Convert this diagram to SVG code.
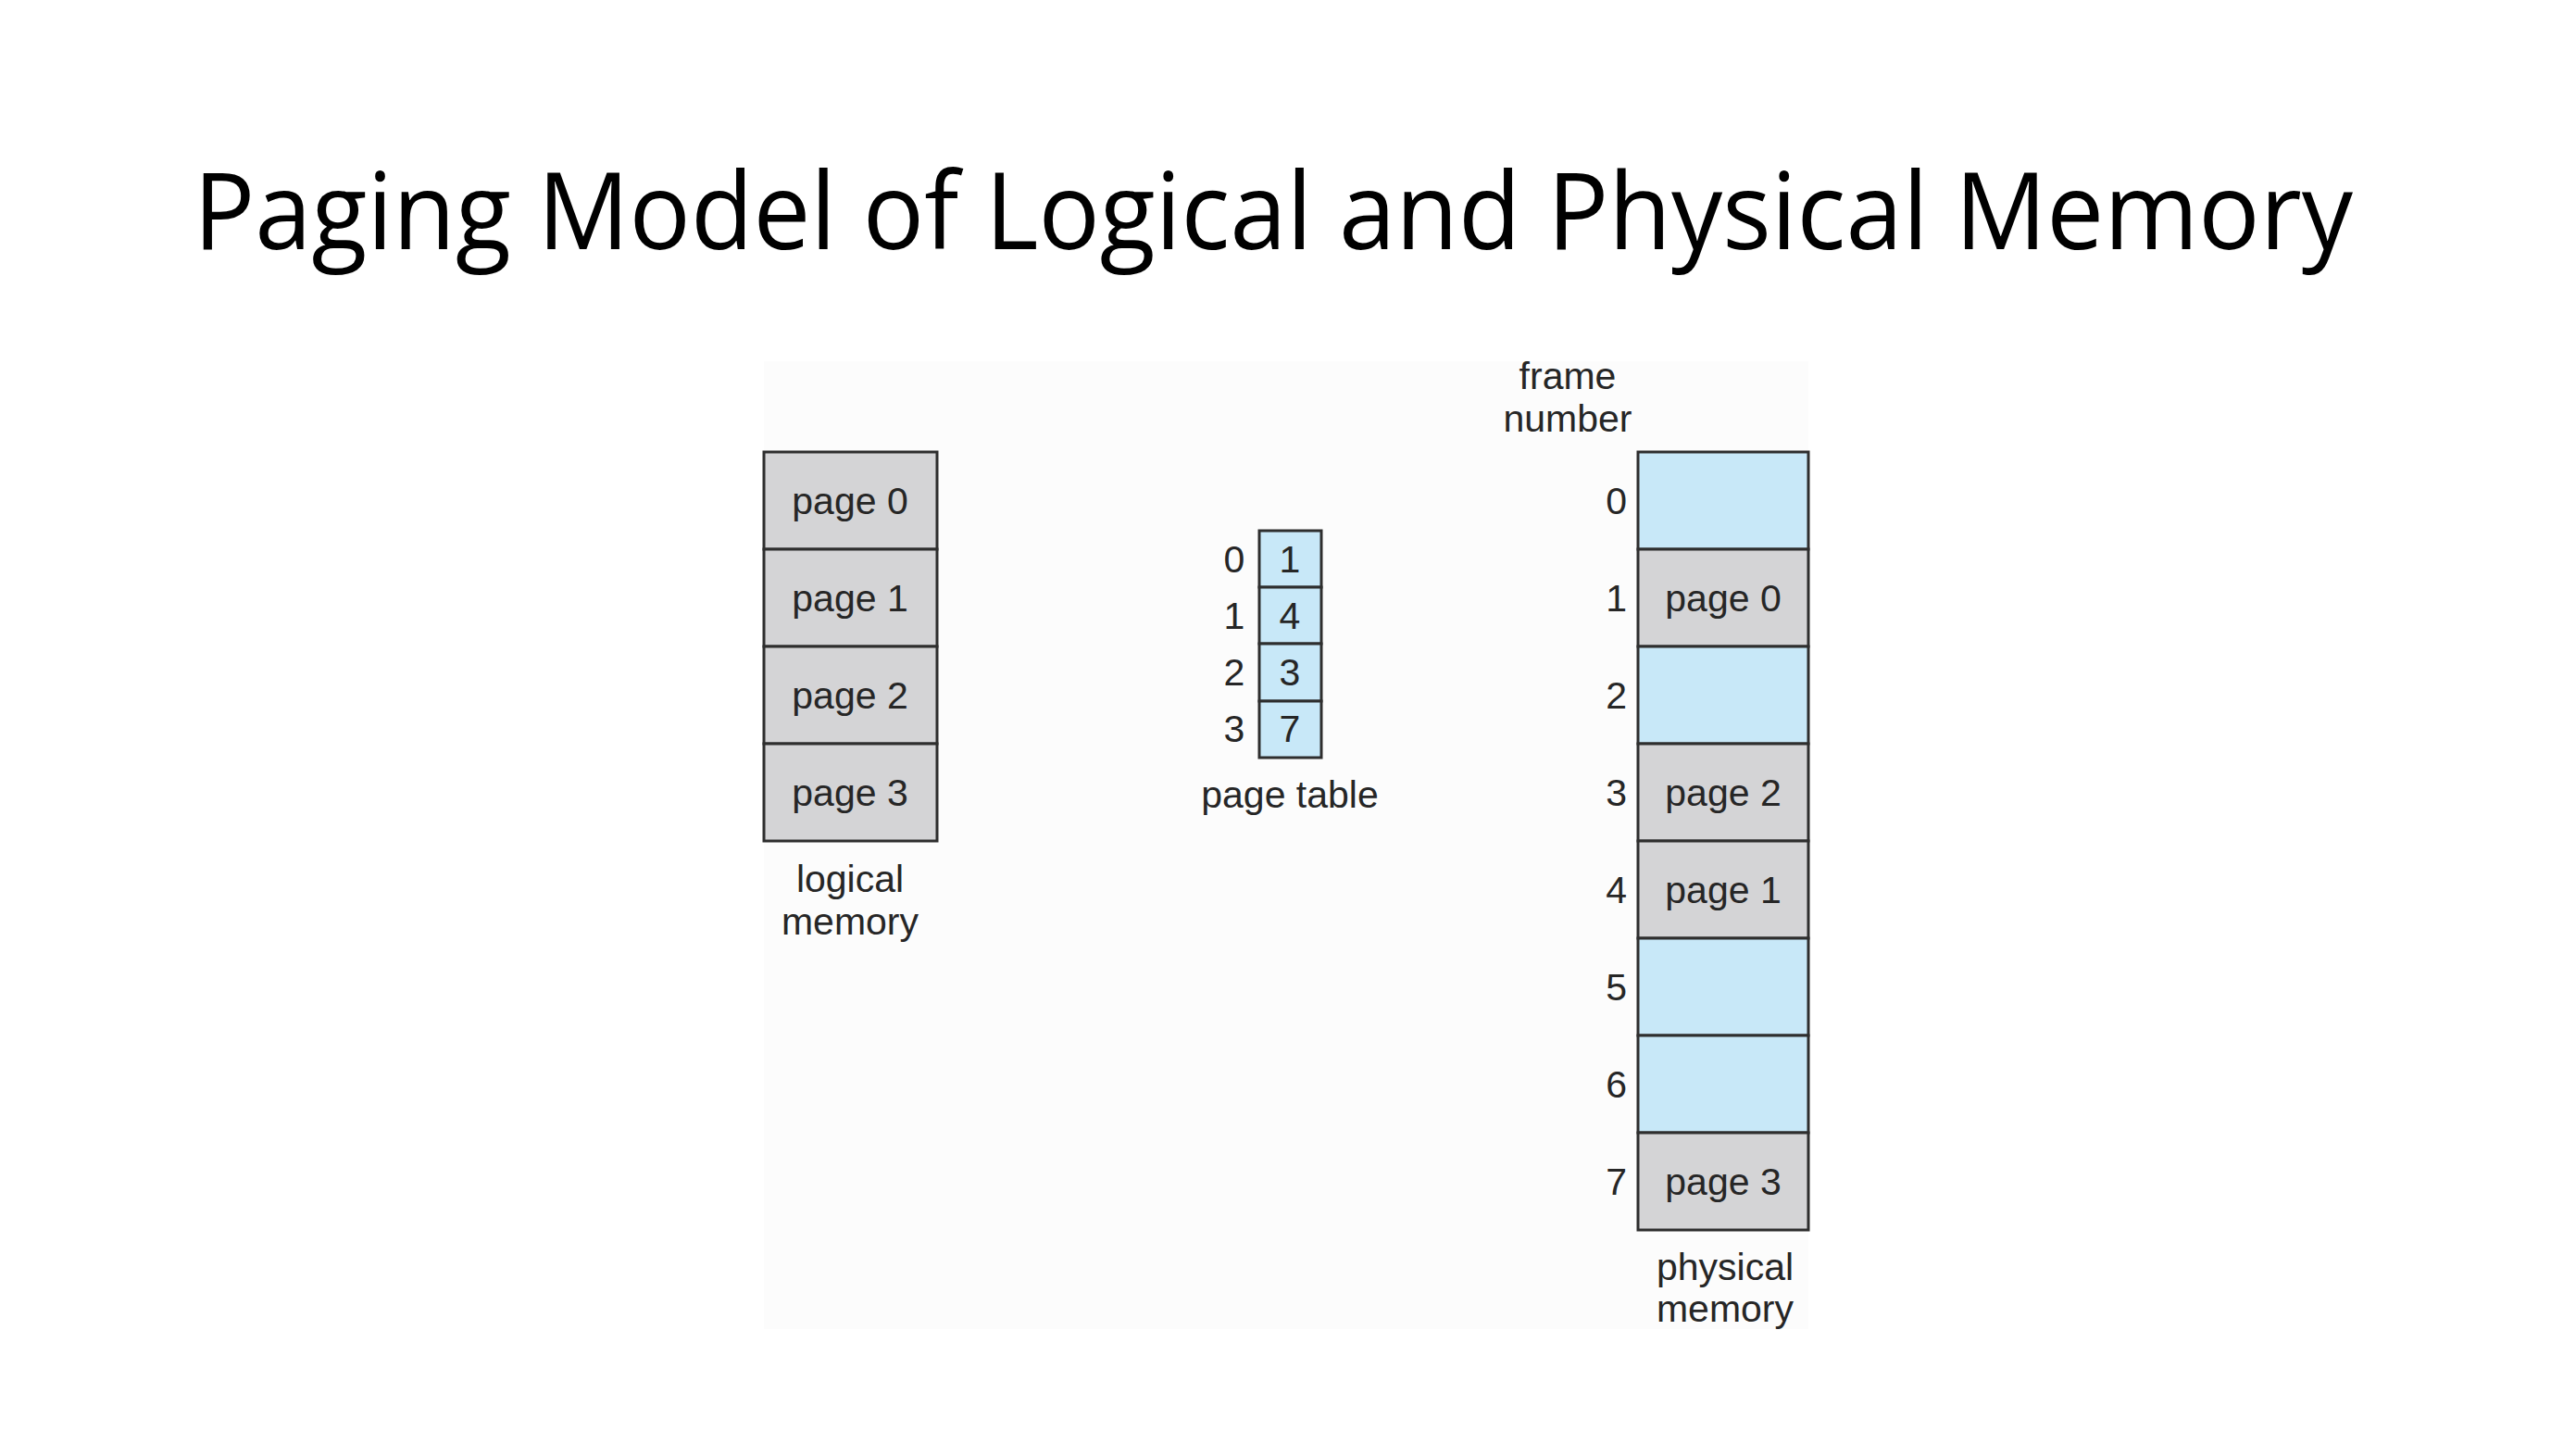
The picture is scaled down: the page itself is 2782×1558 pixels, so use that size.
<svg xmlns="http://www.w3.org/2000/svg" width="2782" height="1558" viewBox="0 0 2782 1558">
<style>
.t{font-family:"Liberation Sans",Arial,sans-serif;font-size:41px;fill:#262626;text-anchor:middle}
.r{text-anchor:end}
.g{fill:#d4d4d6;stroke:#2e2e2e;stroke-width:3}
.b{fill:#c8e8f8;stroke:#2e2e2e;stroke-width:3}
.title{font-family:"Open Sans","Noto Sans",sans-serif;font-size:115px;font-weight:400;fill:#000}
</style>
<rect x="0" y="0" width="2782" height="1558" fill="#ffffff"/>
<text class="title" x="209" y="269" textLength="2332" lengthAdjust="spacingAndGlyphs">Paging Model of Logical and Physical Memory</text>
<rect x="825" y="390" width="1128" height="1045" fill="#fcfcfc"/>
<g id="logical-memory">
<rect class="g" x="825" y="488" width="187" height="105"/>
<rect class="g" x="825" y="593" width="187" height="105"/>
<rect class="g" x="825" y="698" width="187" height="105"/>
<rect class="g" x="825" y="803" width="187" height="105"/>
<text class="t" x="918" y="555">page 0</text>
<text class="t" x="918" y="660">page 1</text>
<text class="t" x="918" y="765">page 2</text>
<text class="t" x="918" y="870">page 3</text>
<text class="t" x="918" y="963">logical</text>
<text class="t" x="918" y="1009">memory</text>
</g>
<g id="page-table">
<rect class="b" x="1360" y="573" width="67" height="61"/>
<rect class="b" x="1360" y="634" width="67" height="61"/>
<rect class="b" x="1360" y="695" width="67" height="62"/>
<rect class="b" x="1360" y="757" width="67" height="61"/>
<text class="t" x="1393" y="618">1</text>
<text class="t" x="1393" y="679">4</text>
<text class="t" x="1393" y="740">3</text>
<text class="t" x="1393" y="801">7</text>
<text class="t" x="1333" y="618">0</text>
<text class="t" x="1333" y="679">1</text>
<text class="t" x="1333" y="740">2</text>
<text class="t" x="1333" y="801">3</text>
<text class="t" x="1393" y="872">page table</text>
</g>
<g id="physical-memory">
<text class="t" x="1693" y="420">frame</text>
<text class="t" x="1693" y="466">number</text>
<rect class="b" x="1769" y="488" width="184" height="105"/>
<rect class="g" x="1769" y="593" width="184" height="105"/>
<rect class="b" x="1769" y="698" width="184" height="105"/>
<rect class="g" x="1769" y="803" width="184" height="105"/>
<rect class="g" x="1769" y="908" width="184" height="105"/>
<rect class="b" x="1769" y="1013" width="184" height="105"/>
<rect class="b" x="1769" y="1118" width="184" height="105"/>
<rect class="g" x="1769" y="1223" width="184" height="105"/>
<text class="t" x="1861" y="660">page 0</text>
<text class="t" x="1861" y="870">page 2</text>
<text class="t" x="1861" y="975">page 1</text>
<text class="t" x="1861" y="1290">page 3</text>
<text class="t r" x="1757" y="555">0</text>
<text class="t r" x="1757" y="660">1</text>
<text class="t r" x="1757" y="765">2</text>
<text class="t r" x="1757" y="870">3</text>
<text class="t r" x="1757" y="975">4</text>
<text class="t r" x="1757" y="1080">5</text>
<text class="t r" x="1757" y="1185">6</text>
<text class="t r" x="1757" y="1290">7</text>
<text class="t" x="1863" y="1382">physical</text>
<text class="t" x="1863" y="1427">memory</text>
</g>
<g id="connectors"></g>
</svg>
